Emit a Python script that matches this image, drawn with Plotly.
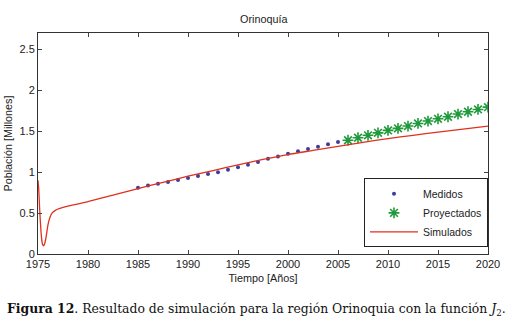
import plotly.graph_objects as go

# Measured data (Medidos)
years_med = list(range(1985, 2006))
pop_med = [0.81, 0.837, 0.857, 0.88, 0.905, 0.93, 0.954, 0.978, 1.0, 1.03, 1.06,
           1.09, 1.125, 1.165, 1.19, 1.226, 1.255, 1.283, 1.31, 1.34, 1.368]

# Projected data (Proyectados)
years_proy = list(range(2006, 2021))
pop_proy = [1.39, 1.42, 1.45, 1.48, 1.51, 1.535, 1.563, 1.595, 1.624, 1.652,
            1.677, 1.71, 1.738, 1.766, 1.794]

# Simulated curve (Simulados)
years_sim = [1975.0, 1975.07, 1975.13, 1975.2, 1975.27, 1975.35, 1975.45, 1975.55,
             1975.65, 1975.8, 1976.0, 1976.2, 1976.4, 1976.7, 1977.0, 1977.5, 1978.0,
             1980.0, 1982.5, 1985.0, 1987.5, 1990.0, 1992.5, 1995.0, 1997.5, 2000.0,
             2002.5, 2005.0, 2007.5, 2010.0, 2012.5, 2015.0, 2017.5, 2020.0]
pop_sim = [0.90, 0.80, 0.64, 0.47, 0.33, 0.20, 0.12, 0.10,
           0.12, 0.20, 0.36, 0.45, 0.50, 0.53, 0.55, 0.57, 0.585,
           0.64, 0.72, 0.80, 0.875, 0.95, 1.02, 1.09, 1.155, 1.215,
           1.265, 1.315, 1.365, 1.41, 1.45, 1.49, 1.525, 1.563]

x_ticks = list(range(1975, 2021, 5))
y_ticks = [0, 0.5, 1, 1.5, 2, 2.5]
y_tick_labels = ["0", "0.5", "1", "1.5", "2", "2.5"]

SANS = "Liberation Sans, Arial, sans-serif"

fig = go.Figure()
fig.add_trace(go.Scatter(x=years_med, y=pop_med, mode="markers", name="Medidos",
                         marker=dict(color="#3b3f9c", size=4, symbol="circle")))
fig.add_trace(go.Scatter(x=years_proy, y=pop_proy, mode="markers", name="Proyectados",
                         marker=dict(color="#1f9a3a", size=9, symbol="asterisk-open",
                                     line=dict(color="#1f9a3a", width=1.6))))
fig.add_trace(go.Scatter(x=years_sim, y=pop_sim, mode="lines", name="Simulados",
                         line=dict(color="#e0301e", width=1.3, shape="spline", smoothing=0.6)))

axis_font = dict(family=SANS, size=11, color="#222")
label_font = dict(family=SANS, size=10.8, color="#222")
fig.update_layout(
    template="none",
    width=514, height=330,
    margin=dict(l=38, r=26, t=33, b=76),
    paper_bgcolor="white", plot_bgcolor="white",
    showlegend=True,
    legend=dict(x=1, y=0.03, xanchor="right", yanchor="bottom",
                bordercolor="#222", borderwidth=1, bgcolor="white",
                font=dict(family=SANS, size=10.5, color="#222"),
                tracegroupgap=0, itemwidth=48),
    xaxis=dict(range=[1975, 2020], tickvals=x_ticks, ticks="inside", ticklen=4,
               showline=True, linecolor="#333", linewidth=1, mirror="allticks",
               showgrid=False, zeroline=False, tickfont=axis_font, automargin=False,
               title=dict(text="Tiempo [Años]", font=label_font, standoff=5)),
    yaxis=dict(range=[0, 2.7], tickvals=y_ticks, ticktext=y_tick_labels, ticks="inside", ticklen=4,
               showline=True, linecolor="#333", linewidth=1, mirror="allticks",
               showgrid=False, zeroline=False, tickfont=axis_font, automargin=False,
               title=dict(text="Población [Millones]", font=label_font, standoff=4)),
)
fig.add_annotation(text="Orinoquía", xref="paper", yref="paper", x=0.5, y=1, yanchor="bottom",
                   yshift=6, showarrow=False, font=label_font)
fig.add_annotation(text="<b>Figura 12</b>. Resultado de simulación para la región Orinoquia con la función <i>J</i><sub>2</sub>.",
                   xref="paper", yref="paper", x=-0.074, xanchor="left", y=0, yanchor="top",
                   yshift=-45, showarrow=False,
                   font=dict(family="DejaVu Serif, serif", size=12.4, color="#111"))
fig.write_html("out.html", config={"displayModeBar": False},
               post_script="document.body.style.margin='0';")
